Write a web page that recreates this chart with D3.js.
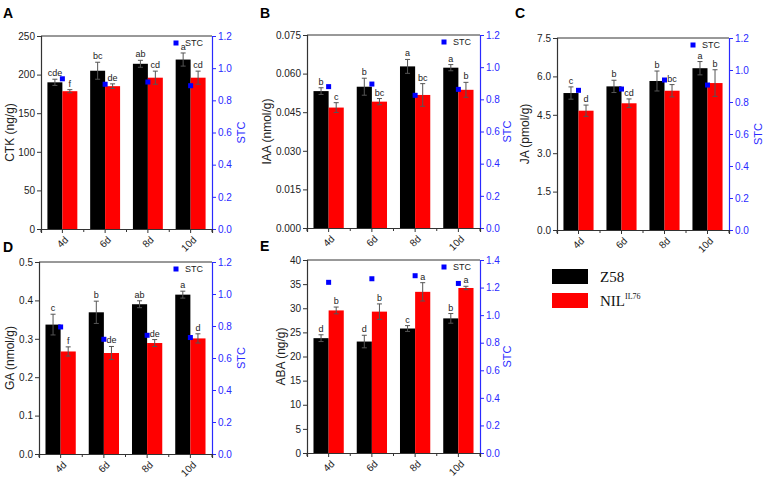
<!DOCTYPE html>
<html><head><meta charset="utf-8">
<script src="https://cdn.jsdelivr.net/npm/d3@7"></script>
<style>body{margin:0;background:#fff}svg{display:block}</style>
</head><body>
<svg id="chart" width="767" height="478"></svg>
<script>
const categories = ["4d", "6d", "8d", "10d"];
const seriesNames = ["Z58", "NIL"];

// A: CTK
const ctkZ58 = [190, 205, 214, 219.5];
const ctkZ58Err = [4, 11, 4.5, 8.5];
const ctkNIL = [178.5, 185, 196, 196];
const ctkNILErr = [2, 3, 8.5, 8.5];
const ctkLetZ58 = ["cde", "bc", "ab", "a"];
const ctkLetNIL = ["f", "de", "cd", "cd"];
const ctkSTC = [0.934, 0.90, 0.914, 0.891];
const ctkTicks = [0, 50, 100, 150, 200, 250];

// B: IAA
const iaaZ58 = [0.0532, 0.0549, 0.0628, 0.0623];
const iaaZ58Err = [0.0013, 0.0033, 0.0027, 0.0012];
const iaaNIL = [0.0468, 0.0491, 0.0517, 0.0537];
const iaaNILErr = [0.0019, 0.0012, 0.0044, 0.0029];
const iaaLetZ58 = ["b", "b", "a", "a"];
const iaaLetNIL = ["c", "bc", "bc", "b"];
const iaaSTC = [0.879, 0.895, 0.825, 0.862];
const iaaTicks = [0, 0.015, 0.030, 0.045, 0.060, 0.075];

// C: JA
const jaZ58 = [5.35, 5.61, 5.82, 6.32];
const jaZ58Err = [0.24, 0.24, 0.39, 0.26];
const jaNIL = [4.66, 4.95, 5.44, 5.74];
const jaNILErr = [0.22, 0.17, 0.24, 0.52];
const jaLetZ58 = ["c", "b", "b", "a"];
const jaLetNIL = ["d", "cd", "bc", "b"];
const jaSTC = [0.873, 0.881, 0.9375, 0.906];
const jaTicks = [0, 1.5, 3.0, 4.5, 6.0, 7.5];

// D: GA
const gaZ58 = [0.337, 0.369, 0.390, 0.415];
const gaZ58Err = [0.027, 0.029, 0.009, 0.009];
const gaNIL = [0.267, 0.263, 0.289, 0.301];
const gaNILErr = [0.012, 0.017, 0.009, 0.012];
const gaLetZ58 = ["c", "b", "ab", "a"];
const gaLetNIL = ["f", "de", "de", "d"];
const gaSTC = [0.794, 0.717, 0.742, 0.728];
const gaTicks = [0, 0.1, 0.2, 0.3, 0.4, 0.5];

// E: ABA
const abaZ58 = [23.8, 23.1, 25.8, 27.9];
const abaZ58Err = [0.7, 1.3, 0.6, 1.0];
const abaNIL = [29.55, 29.3, 33.4, 34.2];
const abaNILErr = [0.7, 1.6, 1.9, 0.35];
const abaLetZ58 = ["d", "d", "c", "b"];
const abaLetNIL = ["b", "b", "a", "a"];
const abaSTC = [1.238, 1.264, 1.286, 1.230];
const abaTicks = [0, 5, 10, 15, 20, 25, 30, 35, 40];

const stcTicks12 = [0, 0.2, 0.4, 0.6, 0.8, 1.0, 1.2];
const stcTicks14 = [0, 0.2, 0.4, 0.6, 0.8, 1.0, 1.2, 1.4];

const panels = [
  {id:"A", title:"CTK (ng/g)", z:ctkZ58, ze:ctkZ58Err, n:ctkNIL, ne:ctkNILErr, lz:ctkLetZ58, ln:ctkLetNIL, stc:ctkSTC, ticks:ctkTicks, fmt:d3.format("d"), stcTicks:stcTicks12,
   box:{x0:41,x1:212,y0:36,y1:229}, lab:{x:3,y:18}, titleX:10, stcX:241},
  {id:"B", title:"IAA (nmol/g)", z:iaaZ58, ze:iaaZ58Err, n:iaaNIL, ne:iaaNILErr, lz:iaaLetZ58, ln:iaaLetNIL, stc:iaaSTC, ticks:iaaTicks, fmt:d3.format(".3f"), stcTicks:stcTicks12,
   box:{x0:307,x1:480,y0:35,y1:228}, lab:{x:260,y:18}, titleX:267, stcX:507},
  {id:"C", title:"JA (pmol/g)", z:jaZ58, ze:jaZ58Err, n:jaNIL, ne:jaNILErr, lz:jaLetZ58, ln:jaLetNIL, stc:jaSTC, ticks:jaTicks, fmt:d3.format(".1f"), stcTicks:stcTicks12,
   box:{x0:557,x1:729,y0:38,y1:230}, lab:{x:515,y:18}, titleX:525, stcX:758},
  {id:"D", title:"GA (nmol/g)", z:gaZ58, ze:gaZ58Err, n:gaNIL, ne:gaNILErr, lz:gaLetZ58, ln:gaLetNIL, stc:gaSTC, ticks:gaTicks, fmt:d3.format(".1f"), stcTicks:stcTicks12,
   box:{x0:39,x1:212,y0:262,y1:454}, lab:{x:3,y:252}, titleX:10, stcX:241},
  {id:"E", title:"ABA (ng/g)", z:abaZ58, ze:abaZ58Err, n:abaNIL, ne:abaNILErr, lz:abaLetZ58, ln:abaLetNIL, stc:abaSTC, ticks:abaTicks, fmt:d3.format("d"), stcTicks:stcTicks14,
   box:{x0:307,x1:480,y0:260,y1:453}, lab:{x:260,y:251}, titleX:281, stcX:507}
];

const svg = d3.select("#chart");
const FONT = "Liberation Sans, Arial, sans-serif";
const BLUE = "#2a2aff";

panels.forEach(p => {
  const b = p.box;
  const g = svg.append("g");
  const x = d3.scaleBand().domain(categories).range([b.x0, b.x1]).padding(0);
  const y = d3.scaleLinear().domain([0, p.ticks[p.ticks.length-1]]).range([b.y1, b.y0]);
  const y2 = d3.scaleLinear().domain([0, p.stcTicks[p.stcTicks.length-1]]).range([b.y1, b.y0]);
  const bw = x.bandwidth() * 0.35;

  // panel label
  g.append("text").attr("x", p.lab.x).attr("y", p.lab.y).text(p.id)
    .attr("font-family", FONT).attr("font-weight", "bold").attr("font-size", 14);

  // bars
  const groups = [
    {vals:p.z, errs:p.ze, lets:p.lz, color:"#000", off:-bw},
    {vals:p.n, errs:p.ne, lets:p.ln, color:"#ff0000", off:0}
  ];
  groups.forEach(s => {
    categories.forEach((c, i) => {
      const cx = x(c) + x.bandwidth()/2;
      const bx = cx + s.off;
      g.append("rect").attr("x", bx).attr("y", y(s.vals[i])).attr("width", bw)
        .attr("height", y(0) - y(s.vals[i])).attr("fill", s.color);
      const ex = bx + bw/2;
      const top = y(s.vals[i] + s.errs[i]), bot = y(s.vals[i] - s.errs[i]);
      const ec = "#555";
      g.append("line").attr("x1", ex).attr("x2", ex).attr("y1", top).attr("y2", bot).attr("stroke", ec).attr("stroke-width", 1);
      g.append("line").attr("x1", ex-2.5).attr("x2", ex+2.5).attr("y1", top).attr("y2", top).attr("stroke", ec).attr("stroke-width", 1);
      g.append("line").attr("x1", ex-2.5).attr("x2", ex+2.5).attr("y1", bot).attr("y2", bot).attr("stroke", ec).attr("stroke-width", 1);
      g.append("text").attr("x", ex).attr("y", top - 3).text(s.lets[i])
        .attr("text-anchor", "middle").attr("font-family", FONT).attr("font-size", 9).attr("fill", "#222");
    });
  });

  // STC points
  categories.forEach((c, i) => {
    const cx = x(c) + x.bandwidth()/2;
    g.append("rect").attr("x", cx - 2.5).attr("y", y2(p.stc[i]) - 2.5).attr("width", 5).attr("height", 5).attr("fill", "#0000ff");
  });

  // frame: top line
  g.append("line").attr("x1", b.x0).attr("x2", b.x1).attr("y1", b.y0).attr("y2", b.y0).attr("stroke", "#333").attr("stroke-width", 1);

  // left axis
  const la = g.append("g").attr("transform", `translate(${b.x0},0)`)
    .call(d3.axisLeft(y).tickValues(p.ticks).tickFormat(p.fmt).tickSize(4).tickPadding(2));
  la.select(".domain").attr("stroke", "#333").attr("stroke-width", 1.2);
  la.selectAll(".tick line").attr("stroke", "#333");
  la.selectAll("text").attr("font-family", FONT).attr("font-size", 10).attr("fill", "#222");

  // right axis
  const ra = g.append("g").attr("transform", `translate(${b.x1},0)`)
    .call(d3.axisRight(y2).tickValues(p.stcTicks).tickFormat(d3.format(".1f")).tickSize(4).tickPadding(2));
  ra.select(".domain").attr("stroke", BLUE).attr("stroke-width", 1.2);
  ra.selectAll(".tick line").attr("stroke", BLUE);
  ra.selectAll("text").attr("font-family", FONT).attr("font-size", 10).attr("fill", BLUE);

  // bottom axis: major ticks at centers, minor at boundaries
  const ba = g.append("g").attr("transform", `translate(0,${b.y1})`)
    .call(d3.axisBottom(x).tickSize(4).tickFormat(""));
  ba.select(".domain").attr("stroke", "#333").attr("stroke-width", 1.2);
  ba.selectAll(".tick line").attr("stroke", "#333");
  const bounds = x.domain().map(c => x(c)).concat([b.x1]);
  bounds.forEach(bx => {
    g.append("line").attr("x1", bx).attr("x2", bx).attr("y1", b.y1).attr("y2", b.y1 + 3).attr("stroke", "#333");
  });
  categories.forEach(c => {
    const cx = x(c) + x.bandwidth()/2;
    g.append("text").attr("transform", `translate(${cx+4},${b.y1+9}) rotate(-45)`)
      .attr("text-anchor", "end").attr("dy", "0.35em").text(c)
      .attr("font-family", FONT).attr("font-size", 10).attr("fill", "#222");
  });

  // axis titles
  const cy = (b.y0 + b.y1) / 2;
  g.append("text").attr("transform", `translate(${p.titleX},${cy}) rotate(-90)`)
    .attr("text-anchor", "middle").attr("dy", "0.35em").text(p.title)
    .attr("font-family", FONT).attr("font-size", 12).attr("fill", "#222");
  g.append("text").attr("transform", `translate(${p.stcX},${cy}) rotate(-90)`)
    .attr("text-anchor", "middle").attr("dy", "0.35em").text("STC")
    .attr("font-family", FONT).attr("font-size", 11).attr("fill", BLUE);

  // STC legend inside plot
  const lx = b.x1 - 36, ly = b.y0 + 7;
  g.append("rect").attr("x", lx - 2.5).attr("y", ly - 2.5).attr("width", 5).attr("height", 5).attr("fill", "#0000ff");
  g.append("text").attr("x", lx + 9).attr("y", ly).attr("dy", "0.35em").text("STC")
    .attr("font-family", FONT).attr("font-size", 9).attr("fill", "#222");
});

// series legend
const legend = svg.append("g");
const legColors = ["#000", "#ff0000"];
seriesNames.forEach((s, i) => {
  const yy = 269 + i * 24;
  legend.append("rect").attr("x", 552).attr("y", yy).attr("width", 36).attr("height", 15).attr("fill", legColors[i]);
  const t = legend.append("text").attr("x", 600).attr("y", yy + 13)
    .attr("font-family", "Liberation Serif, Times New Roman, serif").attr("font-size", 15).attr("fill", "#111");
  t.append("tspan").text(s);
  if (s === "NIL") t.append("tspan").attr("font-size", 8).attr("dy", -7).text("IL76");
});
</script>
</body></html>
